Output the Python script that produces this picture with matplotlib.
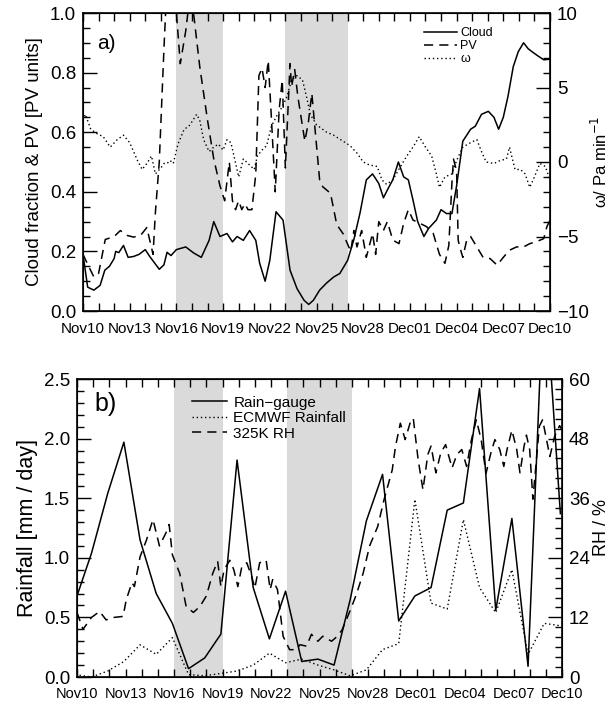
import matplotlib
matplotlib.use("Agg")
import matplotlib.pyplot as plt
from matplotlib.ticker import MultipleLocator, FormatStrFormatter

plt.rcParams["font.family"] = ["Liberation Sans", "DejaVu Sans"]
plt.rcParams["mathtext.fontset"] = "dejavusans"

# x axis: days after Nov 10
tick_days = list(range(0, 31, 3))
tick_labels = ["Nov10", "Nov13", "Nov16", "Nov19", "Nov22", "Nov25",
               "Nov28", "Dec01", "Dec04", "Dec07", "Dec10"]
shade_periods = [(6, 9), (13, 17)]

# ---- panel a ----
cloud_day = [0, 0.3, 0.7, 1.1, 1.4, 1.7, 2.0, 2.1, 2.3, 2.6, 2.9, 3.25, 3.6, 4.0,
             4.3, 4.9, 5.2, 5.4, 5.65, 6.0, 6.6, 7.1, 7.6, 8.1, 8.4, 8.8, 9.25,
             9.6, 9.9, 10.3, 10.7, 11.1, 11.35, 11.7, 12.0, 12.4, 12.85, 13.3,
             13.75, 14.2, 14.5, 14.8, 15.2, 15.65, 16.1, 16.5, 17.0, 17.4, 17.8,
             18.2, 18.6, 19.0, 19.3, 19.6, 19.9, 20.26, 20.6, 20.9, 21.2, 21.5,
             21.9, 22.2, 22.5, 22.7, 23.0, 23.35, 23.7, 24.0, 24.4, 24.9, 25.2,
             25.6, 26.04, 26.4, 26.7, 27.0, 27.3, 27.64, 27.96, 28.3, 28.6, 28.9,
             29.25, 29.6, 30.0]
cloud = [0.19, 0.08, 0.07, 0.086, 0.137, 0.15, 0.176, 0.20, 0.196, 0.22, 0.18,
         0.183, 0.19, 0.206, 0.182, 0.14, 0.155, 0.197, 0.186, 0.206, 0.215,
         0.195, 0.18, 0.237, 0.30, 0.25, 0.26, 0.232, 0.25, 0.237, 0.27, 0.237,
         0.16, 0.10, 0.17, 0.333, 0.305, 0.137, 0.075, 0.036, 0.022, 0.036,
         0.07, 0.094, 0.114, 0.126, 0.17, 0.24, 0.33, 0.44, 0.46, 0.428, 0.38,
         0.411, 0.44, 0.50, 0.45, 0.44, 0.372, 0.30, 0.25, 0.277, 0.294, 0.305,
         0.34, 0.327, 0.327, 0.42, 0.57, 0.61, 0.62, 0.66, 0.67, 0.65, 0.61,
         0.65, 0.72, 0.82, 0.87, 0.90, 0.88, 0.868, 0.855, 0.843, 0.845]

pv_day = [0, 0.36, 0.7, 1.0, 1.43, 2.0, 2.4, 2.8, 3.25, 3.7, 4.1, 4.5, 4.65, 4.9,
          5.2, 5.35, 5.6, 5.8, 6.0, 6.25, 6.6, 6.85, 7.0, 7.1, 7.5, 8.0, 8.4,
          8.8, 9.1, 9.4, 9.6, 9.8, 10.0, 10.2, 10.4, 10.6, 10.85, 11.1, 11.3,
          11.5, 11.7, 11.9, 12.1, 12.35, 12.6, 12.8, 13.0, 13.3, 13.4, 13.6,
          13.8, 14.1, 14.25, 14.47, 14.7, 15.2, 15.4, 15.9, 16.3, 16.7, 17.2,
          17.4, 17.6, 17.9, 18.2, 18.6, 18.8, 19.0, 19.3, 19.55, 19.9, 20.3,
          20.6, 20.9, 21.2, 21.65, 22.07, 22.5, 22.9, 23.25, 23.5, 23.7, 23.8,
          24.0, 24.1, 24.2, 24.4, 24.65, 24.9, 25.3, 25.7, 26.15, 26.6, 27.0,
          27.4, 27.85, 28.3, 28.7, 29.1, 29.6, 29.8, 30.0]
pv = [0.19, 0.15, 0.114, 0.126, 0.24, 0.25, 0.27, 0.254, 0.248, 0.254, 0.28,
      0.19, 0.33, 0.50, 0.88, 1.05, 1.12, 1.08, 1.0, 0.83, 0.94, 1.05, 1.06,
      1.0, 0.82, 0.64, 0.51, 0.42, 0.37, 0.50, 0.37, 0.34, 0.37, 0.34, 0.36,
      0.34, 0.34, 0.46, 0.79, 0.815, 0.75, 0.84, 0.65, 0.40, 0.675, 0.775,
      0.48, 0.83, 0.753, 0.81, 0.72, 0.62, 0.57, 0.63, 0.73, 0.44, 0.417,
      0.395, 0.29, 0.26, 0.20, 0.27, 0.215, 0.27, 0.18, 0.26, 0.19, 0.30,
      0.27, 0.30, 0.238, 0.226, 0.294, 0.34, 0.305, 0.294, 0.283, 0.26, 0.19,
      0.16, 0.22, 0.43, 0.51, 0.47, 0.238, 0.215, 0.18, 0.238, 0.25, 0.215,
      0.18, 0.176, 0.154, 0.18, 0.204, 0.215, 0.215, 0.226, 0.232, 0.243,
      0.283, 0.305]

omega_day = [0, 0.15, 0.5, 0.9, 1.3, 1.75, 2.2, 2.6, 3.0, 3.5, 3.8, 4.1, 4.4,
             4.65, 5.0, 5.2, 5.4, 5.6, 5.8, 6.1, 6.5, 6.8, 7.0, 7.3, 7.5, 7.75,
             8.1, 8.4, 8.7, 9.0, 9.25, 9.5, 9.7, 10.0, 10.3, 10.6, 11.0, 11.2,
             11.5, 11.8, 12.1, 12.5, 12.8, 13.1, 13.4, 13.75, 14.1, 14.4, 14.6,
             15.0, 15.65, 16.1, 16.7, 17.15, 17.6, 18.0, 18.4, 18.9, 19.2, 19.5,
             19.9, 20.4, 20.8, 21.2, 21.6, 22.0, 22.4, 22.7, 22.9, 23.25, 23.7,
             24.0, 24.4, 24.9, 25.3, 25.6, 25.9, 26.4, 26.8, 27.2, 27.4, 27.75,
             28.1, 28.4, 28.7, 29.0, 29.35, 29.7, 30.0]
omega = [2.8, 3.2, 2.2, 1.9, 1.7, 1.0, 1.5, 1.8, 1.3, 0.1, -0.5, -0.1, 0.4,
         -0.8, -0.4, -0.1, -0.1, 0.1, -0.1, 1.2, 2.2, 2.4, 2.7, 3.2, 2.8, 1.5,
         0.7, 1.0, 1.2, 0.8, 1.5, 1.3, 0.4, -1.0, 0.2, -0.1, -0.5, 0.4, 0.8,
         1.1, 2.4, 3.2, 3.7, 4.4, 5.5, 5.8, 5.5, 4.2, 3.2, 2.5, 2.0, 1.8, 1.4,
         1.1, 0.6, 0.0, -0.2, -0.3, -1.2, -1.5, -1.2, -0.3, 0.4, 1.0, 1.7, 1.0,
         0.4, -0.8, -1.7, -1.0, -0.8, 0.1, 1.0, 1.3, 1.5, 0.7, 0.0, -0.1, 0.1,
         0.2, 1.0, -0.5, -0.5, -0.8, -1.7, -1.0, -0.1, -0.3, -1.2]

# ---- panel b ----
gauge_day = [-0.1 + i for i in range(31)]
gauge = [0.64, 1.04, 1.54, 1.97, 1.15, 0.70, 0.45, 0.07, 0.16, 0.36, 1.82,
         0.75, 0.32, 0.72, 0.13, 0.15, 0.10, 0.65, 1.31, 1.70, 0.47, 0.68,
         0.75, 1.40, 1.46, 2.42, 0.56, 1.33, 0.09, 3.4, 1.37]
ecmwf = [0.02, 0.0, 0.05, 0.13, 0.27, 0.19, 0.33, 0.02, 0.01, 0.03, 0.05,
         0.10, 0.20, 0.12, 0.15, 0.10, 0.06, 0.01, 0.06, 0.23, 0.28, 1.49,
         0.62, 0.57, 1.32, 0.75, 0.54, 0.90, 0.19, 0.45, 0.43]

rh_day = [0, 0.37, 0.9, 1.4, 1.8, 2.3, 2.85, 3.05, 3.4, 3.55, 3.9, 4.3, 4.7,
          5.1, 5.5, 5.7, 5.9, 6.35, 6.75, 7.2, 7.6, 8.0, 8.4, 8.7, 8.9, 9.1,
          9.45, 9.7, 9.95, 10.2, 10.5, 10.8, 11.0, 11.3, 11.7, 11.95, 12.1,
          12.4, 12.75, 13.15, 13.55, 13.8, 14.2, 14.5, 14.9, 15.2, 15.75, 16.1,
          16.4, 16.9, 17.3, 17.7, 18.1, 18.6, 19.0, 19.5, 19.7, 20.0, 20.3,
          20.6, 20.8, 21.1, 21.4, 21.7, 21.9, 22.2, 22.5, 22.8, 23.2, 23.5,
          23.8, 24.1, 24.4, 24.7, 25.0, 25.3, 25.6, 25.85, 26.15, 26.4, 26.6,
          26.9, 27.2, 27.4, 27.65, 27.8, 28.0, 28.2, 28.4, 28.6, 28.8, 29.0,
          29.25, 29.55, 29.85, 30.0]
rh = [13.0, 9.6, 12.0, 13.2, 11.5, 12.0, 12.2, 15.6, 19.0, 18.2, 24.2, 27.6,
      31.7, 26.4, 29.0, 30.7, 24.6, 20.9, 14.2, 13.0, 14.2, 16.3, 20.9, 23.3,
      18.2, 21.6, 23.5, 21.6, 18.2, 22.3, 23.0, 20.3, 17.9, 23.0, 23.5, 17.6,
      19.6, 17.6, 8.2, 5.5, 5.5, 6.5, 6.2, 8.6, 7.2, 8.2, 7.2, 8.2, 9.5, 13.4,
      16.8, 20.9, 26.4, 30.3, 35.8, 41.7, 46.4, 51.1, 47.8, 51.1, 52.1, 43.8,
      37.7, 44.8, 46.5, 41.1, 45.1, 46.8, 42.1, 44.8, 45.8, 42.4, 47.8, 51.8,
      47.8, 41.0, 45.1, 47.8, 45.8, 42.4, 45.8, 49.7, 45.8, 41.1, 46.4, 48.7,
      45.8, 35.8, 43.1, 50.5, 51.8, 48.5, 44.4, 48.5, 50.6, 49.8]

W, H = 610, 704
fig = plt.figure(figsize=(W / 100, H / 100), dpi=100)

ax_a = fig.add_axes([83 / W, 1 - 311 / H, (550 - 83) / W, (311 - 13) / H])
ax_b = fig.add_axes([77 / W, 1 - 677 / H, (562 - 77) / W, (677 - 379) / H])

GREY = "#dadada"
LW = 1.1


def style_x(ax, label_pad, size):
    ax.set_xlim(0, 30)
    ax.set_xticks(tick_days)
    ax.set_xticklabels(tick_labels, fontsize=size)
    ax.xaxis.set_minor_locator(MultipleLocator(1))
    ax.tick_params(axis="x", which="both", direction="in", top=True,
                   length=6, width=1, pad=label_pad)
    for (s, e) in shade_periods:
        ax.axvspan(s, e, color=GREY, lw=0, zorder=0)
    for sp in ax.spines.values():
        sp.set_linewidth(1.2)


def style_y(ax, lo, hi, major, minor, left=True):
    ax.set_ylim(lo, hi)
    ax.yaxis.set_major_locator(MultipleLocator(major))
    ax.yaxis.set_minor_locator(MultipleLocator(minor))
    ax.tick_params(axis="y", which="major", direction="in", length=10,
                   width=1, labelsize=13.5, pad=5)
    ax.tick_params(axis="y", which="minor", direction="in", length=5, width=1)
    if left:
        ax.tick_params(axis="y", which="both", right=False)


# panel a
style_x(ax_a, 8, 11)
style_y(ax_a, 0, 1, 0.2, 0.05)
ax_a.yaxis.set_major_formatter(FormatStrFormatter("%.1f"))
l1, = ax_a.plot(cloud_day, cloud, color="black", lw=LW, label="Cloud")
l2, = ax_a.plot(pv_day, pv, color="black", lw=LW, dashes=(6, 4), label="PV")
ax_a2 = ax_a.twinx()
style_y(ax_a2, -10, 10, 5, 1, left=False)
l3, = ax_a2.plot(omega_day, omega, color="black", lw=1.0, dashes=(1, 2),
                 label="\u03c9")
ax_a.set_ylabel("Cloud fraction & PV [PV units]", fontsize=13.5, labelpad=5)
ax_a2.set_ylabel("\u03c9/ Pa min$^{-1}$", fontsize=12, labelpad=1)
ax_a.text(0.03, 0.93, "a)", transform=ax_a.transAxes, fontsize=15,
          ha="left", va="top")
ax_a.legend(handles=[l1, l2, l3], loc="upper left",
            bbox_to_anchor=(0.72, 0.97), frameon=False, fontsize=9,
            handlelength=2.6, handletextpad=0.3, labelspacing=0.1,
            borderaxespad=0)

# panel b
style_x(ax_b, 7, 10.5)
style_y(ax_b, 0, 2.5, 0.5, 0.1)
ax_b.yaxis.set_major_formatter(FormatStrFormatter("%.1f"))
m1, = ax_b.plot(gauge_day, gauge, color="black", lw=LW, label="Rain\u2212gauge")
m2, = ax_b.plot(gauge_day, ecmwf, color="black", lw=1.0, dashes=(1, 2),
                label="ECMWF Rainfall")
ax_b2 = ax_b.twinx()
style_y(ax_b2, 0, 60, 12, 2, left=False)
m3, = ax_b2.plot(rh_day, rh, color="black", lw=LW, dashes=(6, 4),
                 label="325K RH")
ax_b.set_ylabel("Rainfall [mm / day]", fontsize=15.5, labelpad=4)
ax_b2.set_ylabel("RH / %", fontsize=13, labelpad=2)
ax_b.text(0.035, 0.955, "b)", transform=ax_b.transAxes, fontsize=18,
          ha="left", va="top")
ax_b.legend(handles=[m1, m2, m3], loc="upper left",
            bbox_to_anchor=(0.225, 0.965), frameon=False, fontsize=11,
            handlelength=2.3, handletextpad=0.4, labelspacing=0.1,
            borderaxespad=0)

fig.savefig("out.png", dpi=100)
